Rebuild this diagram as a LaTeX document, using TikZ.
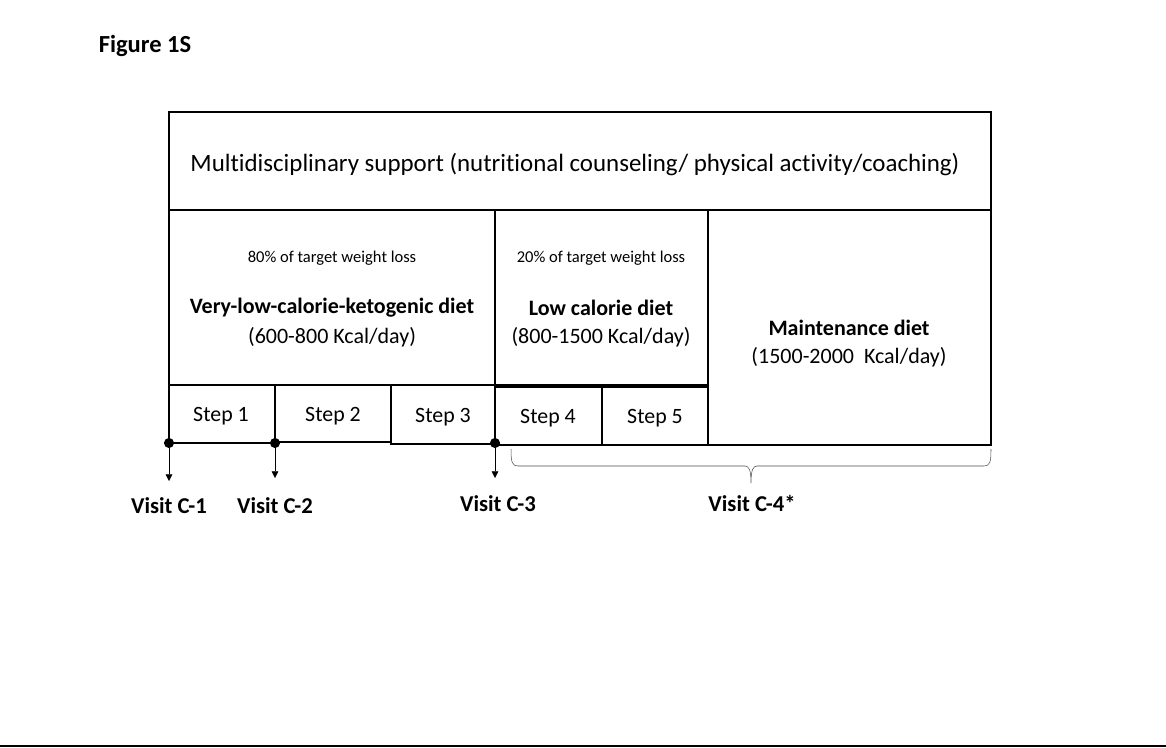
\documentclass[tikz,border=0pt]{standalone}
\usepackage{fontspec}
\setmainfont{Carlito}[Ligatures=NoCommon]
\usetikzlibrary{arrows.meta}

\begin{document}
\begin{tikzpicture}[x=0.75pt,y=0.75pt,yscale=-1]
\useasboundingbox (0,0) rectangle (1166,748);
%title
\draw (145,46) node[font=\bfseries\fontsize{18.4}{22}\selectfont] (title) {Figure 1S};
%support
\draw[line width=1.4pt] (169,112) rectangle (991,210);
\draw (575,165) node[font=\fontsize{18.7}{22}\selectfont] (support) {Multidisciplinary support (nutritional counseling/ physical activity/coaching)};
%diets
\draw[line width=1.6pt] (169,210) rectangle (495,385);
\draw[line width=1.6pt] (495,210) rectangle (708,385);
\draw[line width=1.4pt] (708,210) rectangle (991,445);
\draw (332,258) node[font=\fontsize{12.4}{15}\selectfont] (loss80) {80\% of target weight loss};
\draw (332,308) node[font=\bfseries\fontsize{16.5}{20}\selectfont] (vlckd) {Very-low-calorie-ketogenic diet};
\draw (332,337) node[font=\fontsize{16.5}{20}\selectfont] (vlckdkcal) {(600-800 Kcal/day)};
\draw (601,258) node[font=\fontsize{12.4}{15}\selectfont] (loss20) {20\% of target weight loss};
\draw (601,308) node[font=\bfseries\fontsize{16.5}{20}\selectfont] (lcd) {Low calorie diet};
\draw (601,337) node[font=\fontsize{16.5}{20}\selectfont] (lcdkcal) {(800-1500 Kcal/day)};
\draw (849,328) node[font=\bfseries\fontsize{16.5}{20}\selectfont] (maint) {Maintenance diet};
\draw (849,357) node[font=\fontsize{16.5}{20}\selectfont] (maintkcal) {(1500-2000\ \ Kcal/day)};
%steps
\draw[line width=1.4pt] (169,385) rectangle (275,443);
\draw[line width=1.4pt] (275,385) rectangle (391,442);
\draw[line width=1.4pt] (391,385) rectangle (495,444);
\draw[line width=1.4pt] (495,387) rectangle (602,445);
\draw[line width=1.4pt] (602,387) rectangle (708,445);
\draw[line width=2.2pt] (275,385) -- (275,443);
\draw[line width=2.2pt] (602,387) -- (602,445);
\draw (221,416) node[font=\fontsize{16.4}{20}\selectfont] (step1) {Step 1};
\draw (333,416) node[font=\fontsize{16.4}{20}\selectfont] (step2) {Step 2};
\draw (443,417) node[font=\fontsize{16.4}{20}\selectfont] (step3) {Step 3};
\draw (548,418) node[font=\fontsize{16.4}{20}\selectfont] (step4) {Step 4};
\draw (655,418) node[font=\fontsize{16.4}{20}\selectfont] (step5) {Step 5};
%visits
\coordinate (dot1) at (169,443);
\coordinate (dot2) at (275,443);
\coordinate (dot3) at (495,443);
\coordinate (tip1) at (169,481);
\coordinate (tip2) at (275,478);
\coordinate (tip3) at (495,478);
\fill (dot1) circle (3.8pt);
\fill (dot2) circle (3.8pt);
\fill (dot3) circle (3.8pt);
\draw[-{Triangle[length=5pt,width=5pt]}] (dot1) -- (tip1);
\draw[-{Triangle[length=5pt,width=5pt]}] (dot2) -- (tip2);
\draw[-{Triangle[length=5pt,width=5pt]}] (dot3) -- (tip3);
%brace
\coordinate (braceL) at (511,449);
\coordinate (braceR) at (991,449);
\coordinate (braceTip) at (751,483);
\draw[line width=0.4pt,draw=black!70] (braceL) .. controls (511,462) and (512,466) .. (518,466) -- (745,466) .. controls (749,466) and (751,470) .. (braceTip)
  .. controls (751,470) and (753,466) .. (757,466) -- (984,466) .. controls (990,466) and (991,462) .. (braceR);
\draw (169,506) node[font=\bfseries\fontsize{17}{20}\selectfont] (visit1) {Visit C-1};
\draw (275,506) node[font=\bfseries\fontsize{17}{20}\selectfont] (visit2) {Visit C-2};
\draw (498,504) node[font=\bfseries\fontsize{17}{20}\selectfont] (visit3) {Visit C-3};
\draw (752,503) node[font=\bfseries\fontsize{17}{20}\selectfont] (visit4) {Visit C-4*};
%bottom rule
\draw[line width=2pt] (0,746) -- (1166,746);
\end{tikzpicture}
\end{document}
